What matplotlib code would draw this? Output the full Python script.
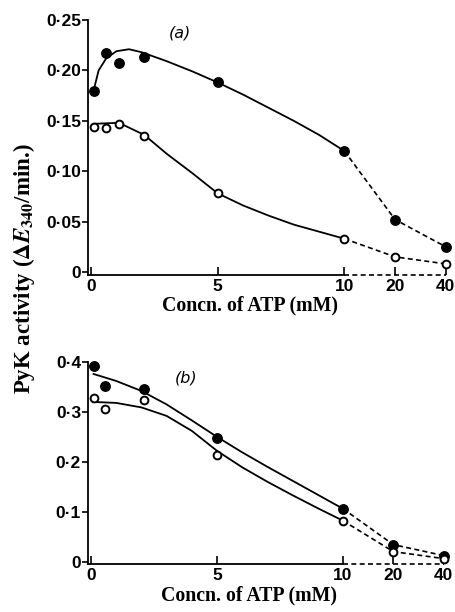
## PyK activity vs ATP concentration, two panels
import numpy as np
import matplotlib
matplotlib.use('Agg')
import matplotlib.pyplot as plt
import matplotlib.transforms as mtrans

plt.rcParams['mathtext.fontset'] = 'stix'

# panel (a) measured points
atp_a = [0.1, 0.6, 1.1, 2.1, 5, 10, 20, 40]
a_filled = [0.180, 0.217, 0.207, 0.213, 0.188, 0.120, 0.052, 0.025]
a_open = [0.144, 0.143, 0.147, 0.135, 0.078, 0.033, 0.015, 0.008]
# panel (a) drawn curves (solid part, 0-10 mM)
fit_a_filled_x = [0.1, 0.3, 0.6, 1.0, 1.5, 2, 3, 4, 5, 6, 7, 8, 9, 10]
fit_a_filled_y = [0.180, 0.200, 0.212, 0.219, 0.221, 0.218, 0.209, 0.199, 0.188, 0.176, 0.163, 0.150, 0.136, 0.120]
fit_a_open_x = [0.1, 1.1, 2.1, 3, 4, 5, 6, 7, 8, 9, 10]
fit_a_open_y = [0.147, 0.148, 0.136, 0.117, 0.098, 0.078, 0.066, 0.056, 0.047, 0.040, 0.033]

# panel (b) measured points
atp_b = [0.1, 0.55, 2.1, 5, 10, 20, 40]
b_filled = [0.392, 0.352, 0.346, 0.248, 0.106, 0.034, 0.012]
b_open = [0.328, 0.306, 0.324, 0.214, 0.082, 0.020, 0.006]
fit_b_x = [0.1, 1, 2, 3, 4, 5, 6, 7, 8, 9, 10]
fit_b_filled_y = [0.376, 0.362, 0.342, 0.315, 0.283, 0.250, 0.219, 0.190, 0.162, 0.134, 0.106]
fit_b_open_y = [0.320, 0.318, 0.309, 0.292, 0.262, 0.222, 0.189, 0.160, 0.133, 0.107, 0.082]

xticks = [0, 5, 10, 20, 40]
yticks_a = [0, 0.05, 0.10, 0.15, 0.20, 0.25]
ylabels_a = ['0', '0·05', '0·10', '0·15', '0·20', '0·25']
yticks_b = [0, 0.1, 0.2, 0.3, 0.4]
ylabels_b = ['0', '0·1', '0·2', '0·3', '0·4']


def pos(x):
    # broken axis: linear to 10 mM, then 20 and 40 at equal steps
    x = np.asarray(x, dtype=float)
    return np.where(x <= 10, x, 10 + 2 * np.log2(np.maximum(x, 10) / 10))


tickfont = {'family': 'Liberation Sans', 'weight': 'bold', 'size': 12.5}
DASH = (0, (3, 2))


def panel(ax, xp, filled, opn, fx1, fy1, fx2, fy2, yt, yl, top, letter, lx, ly):
    ax.plot(pos(fx1), fy1, color='k', lw=1.3, solid_joinstyle='round')
    ax.plot(pos(fx2), fy2, color='k', lw=1.3, solid_joinstyle='round')
    ax.plot(pos(xp[-3:]), filled[-3:], color='k', lw=1.2, ls=DASH)
    ax.plot(pos(xp[-3:]), opn[-3:], color='k', lw=1.2, ls=DASH)
    ax.plot(pos(xp), filled, 'o', color='k', ms=6.8, ls='none', clip_on=False, zorder=5)
    ax.plot(pos(xp), opn, 'o', mfc='white', mec='k', mew=1.4, ms=5.6, ls='none', clip_on=False, zorder=5)
    ax.set_xlim(-0.12, 14.05)
    ax.set_ylim(-top * 0.012, top)
    for s in ['top', 'right', 'bottom']:
        ax.spines[s].set_visible(False)
    ax.spines['left'].set_linewidth(1.3)
    tr = mtrans.blended_transform_factory(ax.transData, ax.transAxes)
    ax.plot([-0.12, 10], [0, 0], color='k', lw=1.3, transform=tr, clip_on=False)
    ax.plot([10, 14], [0, 0], color='k', lw=1.2, ls=DASH, transform=tr, clip_on=False)
    ax.set_xticks(pos(xticks))
    ax.set_xticklabels([str(v) for v in xticks], fontdict=tickfont)
    ax.set_yticks(yt)
    ax.set_yticklabels(yl, fontdict=tickfont)
    ax.tick_params(axis='x', direction='in', length=6, width=1.2, pad=3)
    ax.tick_params(axis='y', direction='out', length=4, width=1.2, pad=1)
    ax.text(lx, ly, letter, transform=ax.transAxes, ha='center', va='center',
            fontsize=11.5, style='italic', family='DejaVu Sans')


fig = plt.figure(figsize=(4.55, 6.12), dpi=100)
axa = fig.add_axes([88 / 455, 1 - 275 / 612, 359 / 455, 255 / 612])
axb = fig.add_axes([88 / 455, 1 - 564 / 612, 357 / 455, 202 / 612])

panel(axa, atp_a, a_filled, a_open, fit_a_filled_x, fit_a_filled_y,
      fit_a_open_x, fit_a_open_y, yticks_a, ylabels_a, 0.25, '(a)', 0.256, 0.95)
panel(axb, atp_b, b_filled, b_open, fit_b_x, fit_b_filled_y,
      fit_b_x, fit_b_open_y, yticks_b, ylabels_b, 0.4, '(b)', 0.275, 0.92)

labfont = {'family': 'Liberation Serif', 'weight': 'bold', 'size': 14.3}
fig.text(250 / 455, 1 - 305 / 612, 'Concn. of ATP (mM)', ha='center', va='center', **labfont)
fig.text(249 / 455, 1 - 595 / 612, 'Concn. of ATP (mM)', ha='center', va='center', **labfont)
fig.text(24 / 455, 1 - 269 / 612, r'PyK activity ($\mathbf{\Delta}\boldsymbol{E}_{\mathbf{340}}$/min.)',
         rotation=90, ha='center', va='center', family='Liberation Serif', weight='bold', size=16.5)

plt.savefig('out.png', dpi=100)
